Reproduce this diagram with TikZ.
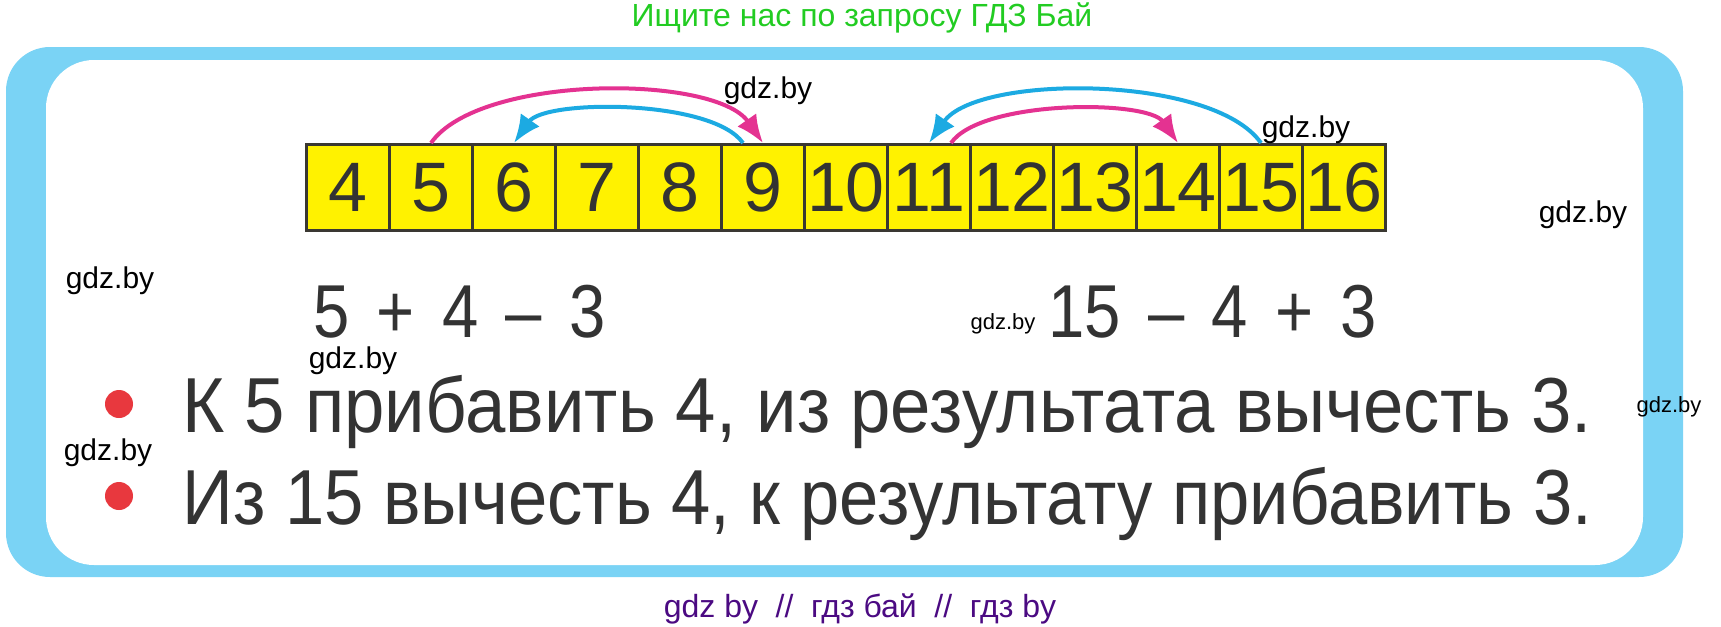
\documentclass[tikz,border=0pt]{standalone}
\usepackage{fontspec}
\setmainfont{Liberation Sans}
\newfontfamily\narrowfont[FakeStretch=0.87, WordSpace=1.5]{Liberation Sans}
\newfontfamily\rulefont[FakeStretch=0.93]{Liberation Sans}
\newfontfamily\rulefontb[FakeStretch=0.905]{Liberation Sans}
\usetikzlibrary{arrows.meta, positioning}

\definecolor{frameblue}{RGB}{122,211,245}
\definecolor{cellyellow}{RGB}{255,242,0}
\definecolor{cellborder}{RGB}{58,56,50}
\definecolor{textgrey}{RGB}{51,51,51}
\definecolor{arcpink}{RGB}{228,50,145}
\definecolor{arcblue}{RGB}{28,170,226}
\definecolor{dotred}{RGB}{232,56,62}
\definecolor{searchgreen}{RGB}{34,204,34}
\definecolor{linkpurple}{RGB}{75,10,130}

\tikzset{
    cell/.style={draw=cellborder, line width=1.5pt, fill=cellyellow, minimum width=41.5pt,
        minimum height=43pt, inner sep=0pt, anchor=north west, text=textgrey,
        font=\fontsize{35}{35}\selectfont},
    pinkarc/.style={arcpink, line width=2pt, -{Latex[length=14pt,width=11.5pt]}},
    bluearc/.style={arcblue, line width=2pt, -{Latex[length=14pt,width=11.5pt]}},
    wm/.style={anchor=base, inner sep=0pt, font=\fontsize{15}{15}\selectfont},
    smallwm/.style={wm, font=\fontsize{11}{11}\selectfont},
    sum/.style={anchor=base west, inner sep=0pt, text=textgrey, font=\narrowfont\fontsize{37.5}{37.5}\selectfont},
    rule/.style={anchor=base west, inner sep=0pt, text=textgrey, font=\rulefont\fontsize{39}{39}\selectfont},
    dot/.style={circle, fill=dotred, minimum size=14pt, inner sep=0pt}
}

\begin{document}
\begin{tikzpicture}[x=0.5pt, y=-0.5pt]
    \useasboundingbox (0,0) rectangle (1721,627);
    % frame
    \fill[frameblue, rounded corners=22pt] (6,47) rectangle (1683,577);
    \fill[white, rounded corners=24pt] (46,60) rectangle (1643,565);

    \node[anchor=base, inner sep=0pt, text=searchgreen, font=\fontsize{16}{16}\selectfont] (search) at (862,26) {Ищите нас по запросу ГДЗ Бай};

    % number line
    \foreach \i in {4,...,16}
        \node[cell] (n\i) at ({305+83*(\i-4)},143) {\i};

    \draw[pinkarc] (n5.north) to[out=55,in=125,looseness=0.65] (n9.north);
    \draw[bluearc] ([xshift=-10pt]n9.north) to[out=125,in=55,looseness=0.6] (n6.north);
    \draw[bluearc] (n15.north) to[out=125,in=55,looseness=0.65] (n11.north);
    \draw[pinkarc] ([xshift=11pt]n11.north) to[out=55,in=125,looseness=0.6] (n14.north);

    % sums
    \node[sum] (left sum) at (313,337) {5 + 4 – 3};
    \node[sum] (right sum) at (1048,337) {15 – 4 + 3};

    % rules
    \node[dot] (dot1) at (119,404) {};
    \node[rule] (rule1) at (182,432) {К 5 прибавить 4, из результата вычесть 3.};
    \node[dot] (dot2) at (119,496) {};
    \node[rule, font=\rulefontb\fontsize{39}{39}\selectfont] (rule2) at (182,524) {Из 15 вычесть 4, к результату прибавить 3.};

    % watermarks
    \node[wm] (wm1) at (768,98) {gdz.by};
    \node[wm] (wm2) at (1306,137) {gdz.by};
    \node[wm] (wm3) at (1583,222) {gdz.by};
    \node[wm] (wm4) at (110,288) {gdz.by};
    \node[smallwm] (wm5) at (1003,329) {gdz.by};
    \node[wm] (wm6) at (353,368) {gdz.by};
    \node[smallwm] (wm7) at (1669,412) {gdz.by};
    \node[wm] (wm8) at (108,460) {gdz.by};

    \node[anchor=base, inner sep=0pt, text=linkpurple, font=\fontsize{16}{16}\selectfont] (links) at (860,617) {gdz by\hspace{0.55em}//\hspace{0.55em}гдз бай\hspace{0.55em}//\hspace{0.55em}гдз by};
\end{tikzpicture}
\end{document}
